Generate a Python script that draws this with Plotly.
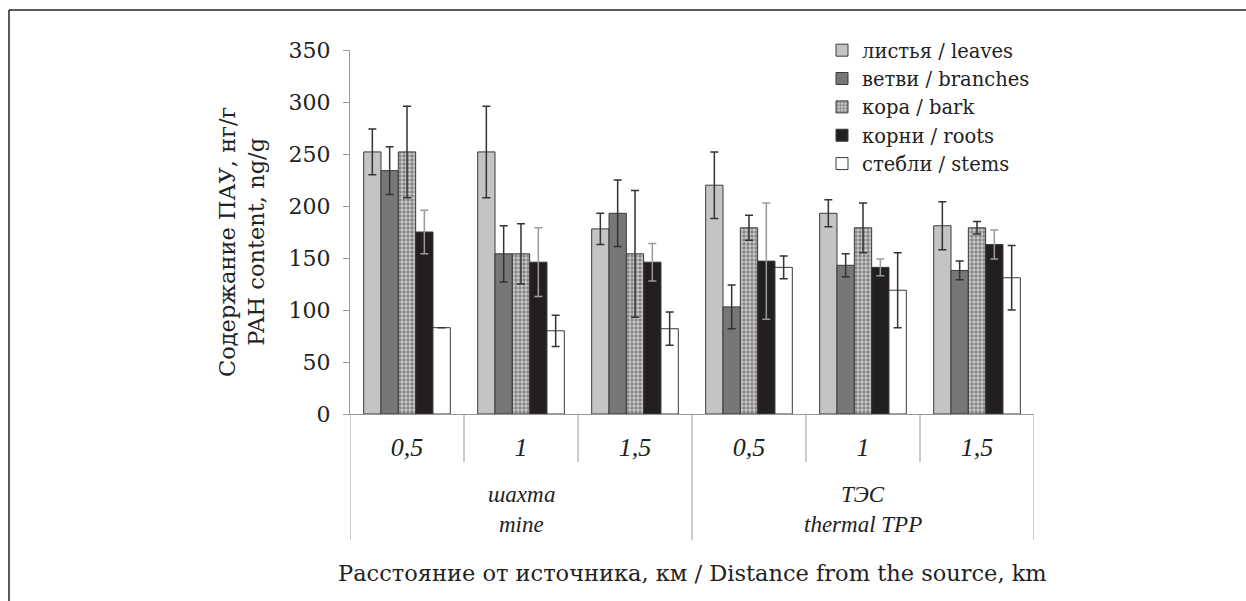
import plotly.graph_objects as go

distances = ["0,5", "1", "1,5", "0,5", "1", "1,5"]
sources_ru = ["шахта", "ТЭС"]
sources_en = ["mine", "thermal TPP"]
series_names = ["листья / leaves", "ветви / branches", "кора / bark", "корни / roots", "стебли / stems"]

leaves = [252, 252, 178, 220, 193, 181]
leaves_err = [22, 44, 15, 32, 13, 23]
branches = [234, 154, 193, 103, 143, 138]
branches_err = [23, 27, 32, 21, 11, 9]
bark = [252, 154, 154, 179, 179, 179]
bark_err = [44, 29, 61, 12, 24, 6]
roots = [175, 146, 146, 147, 141, 163]
roots_err = [21, 33, 18, 56, 8, 14]
stems = [83, 80, 82, 141, 119, 131]
stems_err = [0, 15, 16, 11, 36, 31]

x = list(range(len(distances)))
FONT = "DejaVu Serif, Liberation Serif, serif"
IFONT = "Liberation Serif, serif"
EDGE = "#3a3a3a"
TXT = "#222222"

fig = go.Figure()

def add(name, vals, errs, color, errcolor, pattern=None):
    marker = dict(color=color, line=dict(color=EDGE, width=1))
    if pattern:
        marker["pattern"] = pattern
    fig.add_trace(go.Bar(
        x=x, y=vals, name=name, marker=marker,
        error_y=dict(type="data", array=errs, visible=True, color=errcolor,
                     thickness=1.5, width=4),
    ))

add(series_names[0], leaves, leaves_err, "#c4c4c6", "#333333")
add(series_names[1], branches, branches_err, "#77777a", "#333333")
add(series_names[2], bark, bark_err, "#c8c8c8", "#333333",
    pattern=dict(shape=".", fgcolor="#3c3c3c", bgcolor="#cdcdcd", size=4, solidity=0.55))
add(series_names[3], roots, roots_err, "#231f20", "#9a9a9a")
add(series_names[4], stems, stems_err, "#ffffff", "#333333")

# plot area pixels: x 350..1034, y 50..414
L, R, T, B = 350, 1034, 50, 414
W, H = R - L, B - T

def px_x(p):
    return (p - L) / W

def px_y(p):
    return (B - p) / H

shapes = []
for i in range(len(distances) + 1):
    xb = i - 0.5
    long = i in (0, 3, 6)
    shapes.append(dict(type="line", xref="x", yref="paper", x0=xb, x1=xb,
                       y0=0, y1=px_y(540 if long else 462),
                       line=dict(color="#9a9a9a", width=1)))
shapes.append(dict(type="line", xref="paper", yref="paper", x0=px_x(9), x1=px_x(1246),
                   y0=px_y(10), y1=px_y(10), line=dict(color="#222222", width=1.5)))
shapes.append(dict(type="line", xref="paper", yref="paper", x0=px_x(9), x1=px_x(9),
                   y0=px_y(10), y1=px_y(601), line=dict(color="#222222", width=1.5)))

annotations = []
for gi in range(len(sources_ru)):
    for txt, ypx in ((sources_ru[gi], 494), (sources_en[gi], 524)):
        annotations.append(dict(text="<i>" + txt + "</i>", x=gi * 3 + 1, xref="x",
                                y=px_y(ypx), yref="paper", showarrow=False,
                                font=dict(family=IFONT, size=23, color=TXT),
                                xanchor="center", yanchor="middle"))
annotations.append(dict(text="Расстояние от источника, км / Distance from the source, km",
                        x=0.5, xref="paper", y=px_y(573), yref="paper", showarrow=False,
                        font=dict(family=FONT, size=22.5, color=TXT),
                        xanchor="center", yanchor="middle"))
annotations.append(dict(text="Содержание ПАУ, нг/г<br>PAH content, ng/g",
                        x=px_x(241), xref="paper", y=px_y(242), yref="paper", showarrow=False,
                        textangle=-90,
                        font=dict(family=FONT, size=22.5, color=TXT),
                        xanchor="center", yanchor="middle"))

fig.update_layout(
    width=1246, height=601,
    margin=dict(l=L, r=1246 - R, t=T, b=601 - B),
    paper_bgcolor="white", plot_bgcolor="white",
    barmode="group", bargap=0.24, bargroupgap=0,
    font=dict(family=FONT, color=TXT),
    showlegend=True,
    legend=dict(x=px_x(822), y=px_y(31), xanchor="left", yanchor="top",
                font=dict(family=FONT, size=19.5, color=TXT),
                bgcolor="rgba(0,0,0,0)", tracegroupgap=0, itemwidth=30),
    shapes=shapes,
    annotations=annotations,
)
fig.update_xaxes(
    range=[-0.5, 5.5], tickmode="array", tickvals=x,
    ticktext=["<i>" + d + "</i>" for d in distances],
    showline=True, linecolor="#9a9a9a", linewidth=1,
    ticks="", showgrid=False, zeroline=False,
    tickfont=dict(family=IFONT, size=26, color=TXT),
    ticklabelstandoff=10,
)
fig.update_yaxes(
    range=[0, 350], dtick=50, showline=True, linecolor="#9a9a9a", linewidth=1,
    ticks="outside", ticklen=6, tickcolor="#9a9a9a",
    showgrid=False, zeroline=False,
    tickfont=dict(family=FONT, size=22, color=TXT),
    ticklabelstandoff=8,
)

fig.write_html("out.html")
